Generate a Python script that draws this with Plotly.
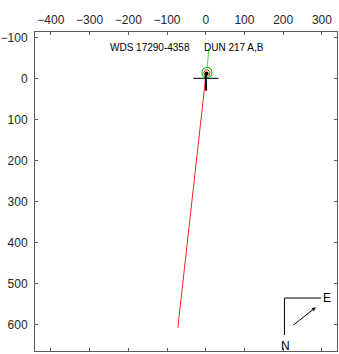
import plotly.graph_objects as go
import numpy as np

# Axis ticks
x_ticks = [-400, -300, -200, -100, 0, 100, 200, 300]
y_ticks = [-100, 0, 100, 200, 300, 400, 500, 600]

# Orbit-plot elements (arcseconds * 1000, y increasing downward)
red_line_x = [-72, 1]
red_line_y = [608, -12]
green_line_x = [4, 8]
green_line_y = [-27, -74]
black_horiz_x = [-32, 33]
black_horiz_y = [0, 0]
black_vert_x = [0, 1]
black_vert_y = [-8, 30]
green_circle = (3, -14, 13)   # cx, cy, r
red_circle = (3, -13, 8)
primary_x = [2]
primary_y = [-12]

labels = ["WDS 17290-4358", "DUN 217 A,B"]
label_x = [-143, 73]
label_y = [-76, -76]

AX = "#5a5a5a"
TXT = "#262626"

fig = go.Figure()

def circle(cx, cy, r, n=60):
    t = np.linspace(0, 2 * np.pi, n)
    return cx + r * np.cos(t), cy + r * np.sin(t)

gx, gy = circle(*green_circle)
fig.add_trace(go.Scatter(x=gx, y=gy, mode="lines", line=dict(color="#22cc22", width=1.2), hoverinfo="skip"))
rx, ry = circle(*red_circle)
fig.add_trace(go.Scatter(x=rx, y=ry, mode="lines", line=dict(color="#ee2222", width=1), hoverinfo="skip"))
fig.add_trace(go.Scatter(x=red_line_x, y=red_line_y, mode="lines", line=dict(color="#ff2222", width=1)))
fig.add_trace(go.Scatter(x=green_line_x, y=green_line_y, mode="lines", line=dict(color="#44dd44", width=1)))
fig.add_trace(go.Scatter(x=black_horiz_x, y=black_horiz_y, mode="lines", line=dict(color="#000000", width=1)))
fig.add_trace(go.Scatter(x=black_vert_x, y=black_vert_y, mode="lines", line=dict(color="#000000", width=2)))
fig.add_trace(go.Scatter(x=primary_x, y=primary_y, mode="markers",
                         marker=dict(color="#000000", size=4)))

fig.update_layout(
    width=339, height=354,
    margin=dict(l=33, r=1, t=32, b=3),
    paper_bgcolor="white", plot_bgcolor="white",
    showlegend=False,
    font=dict(family="Liberation Sans, Arial, sans-serif", size=12, color=TXT),
    xaxis=dict(range=[-441, 339], side="top", tickvals=x_ticks, ticks="inside", ticklen=3,
               tickcolor=AX, showline=True, linecolor=AX, linewidth=1, mirror="ticks",
               showgrid=False, zeroline=False, tickfont=dict(size=12, color=TXT),
               ticklabelstandoff=2),
    yaxis=dict(range=[665, -113], tickvals=y_ticks, ticks="inside", ticklen=3,
               tickcolor=AX, showline=True, linecolor=AX, linewidth=1, mirror="ticks",
               showgrid=False, zeroline=False, tickfont=dict(size=12, color=TXT),
               ticklabelstandoff=4),
)

# Star name labels
for t, lx, ly in zip(labels, label_x, label_y):
    fig.add_annotation(x=lx, y=ly, xref="x", yref="y", text=t, showarrow=False,
                       xanchor="center", yanchor="middle",
                       font=dict(size=10, color="#000000"))

# Compass (N down, E right) with motion arrow
fig.add_shape(type="line", xref="paper", yref="paper", x0=0.826, y0=0.050, x1=0.826, y1=0.166,
              line=dict(color="#000000", width=1))
fig.add_shape(type="line", xref="paper", yref="paper", x0=0.826, y0=0.166, x1=0.947, y1=0.166,
              line=dict(color="#000000", width=1))
fig.add_annotation(x=0.968, y=0.166, xref="paper", yref="paper", text="E", showarrow=False,
                   xanchor="center", yanchor="middle",
                   font=dict(size=12, color="#000000"))
fig.add_annotation(x=0.828, y=0.016, xref="paper", yref="paper", text="N", showarrow=False,
                   xanchor="center", yanchor="middle",
                   font=dict(size=12, color="#000000"))
fig.add_annotation(x=0.930, y=0.137, ax=-24, ay=19, xref="paper", yref="paper",
                   axref="pixel", ayref="pixel", text="", showarrow=True,
                   arrowhead=2, arrowsize=0.8, arrowwidth=1, arrowcolor="#000000")

fig.write_html("out.html")
